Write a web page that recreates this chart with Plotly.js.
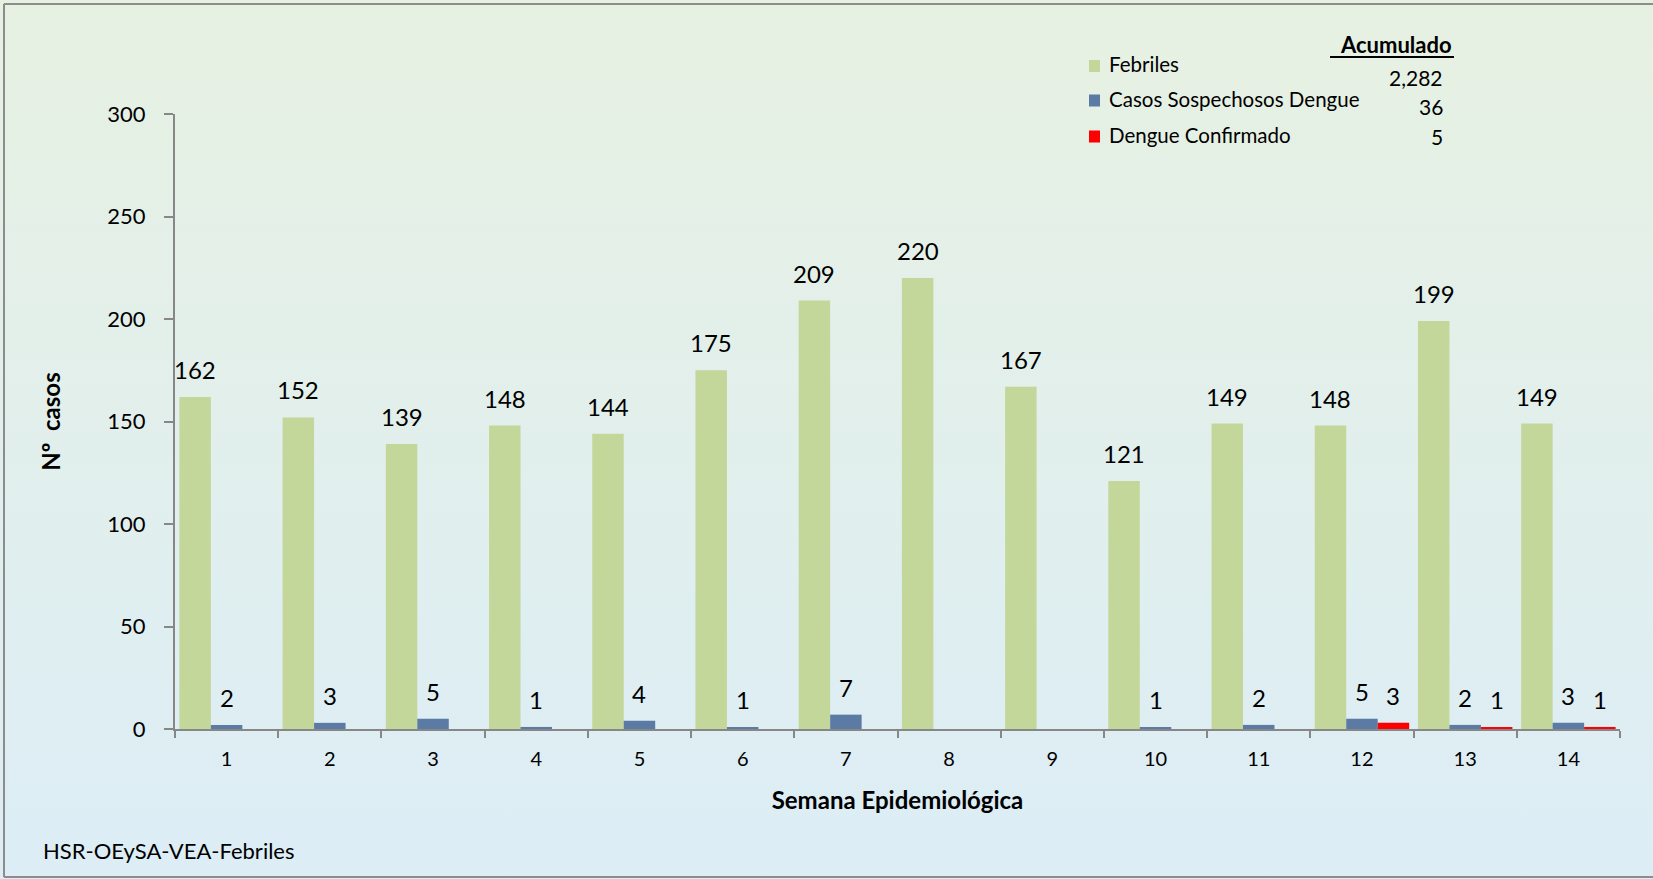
<!DOCTYPE html>
<html><head><meta charset="utf-8">
<script src="https://cdn.plot.ly/plotly-3.0.1.min.js"></script>
<style>
html,body{margin:0;padding:0;}
body{width:1653px;height:879px;overflow:hidden;background:linear-gradient(to bottom,#e7f1e2 0%,#dcedf6 100%);}
#chart{width:1653px;height:879px;}
</style></head><body><div id="chart"></div>
<script>
// ---- data ----
const semanas = ['1','2','3','4','5','6','7','8','9','10','11','12','13','14'];
const febriles = [162,152,139,148,144,175,209,220,167,121,149,148,199,149];
const sospechosos = [2,3,5,1,4,1,7,null,null,1,2,5,2,3];
const confirmados = [null,null,null,null,null,null,null,null,null,null,null,3,1,1];
const seriesNames = ['Febriles','Casos Sospechosos Dengue','Dengue Confirmado'];
const acumuladoTitle = 'Acumulado';
const xTitle = 'Semana Epidemiológica';
const yTitle = 'Nº&nbsp; casos';
const footer = 'HSR-OEySA-VEA-Febriles';

// ---- style ----
const colors = ['#c4d79b','#5b7ba5','#ff0000'];
const FONT = 'Lato, "Open Sans", sans-serif';
const W = 1653, H = 879, L = 175, R = 33, T = 114, B = 150;
const plotW = W - L - R, plotH = H - T - B;
const BARGAP = 0.085;
const px2x = p => (p - L) / plotW;
const py2y = p => (H - B - p) / plotH;
const barW = plotW / semanas.length * (1 - BARGAP) / 3;

const allSeries = [febriles, sospechosos, confirmados];
const traces = allSeries.map((vals, s) => ({
  type: 'bar', x: semanas, y: vals, name: seriesNames[s],
  marker: {color: colors[s], line: {width: 0}},
  hoverinfo: 'x+y+name'
}));

const annotations = [];
allSeries.forEach((vals, s) => {
  vals.forEach((v, i) => {
    if (v === null || v === 0) return;
    annotations.push({
      x: i, y: v, xref: 'x', yref: 'y', text: String(v),
      showarrow: false, yanchor: 'bottom', xanchor: 'center',
      xshift: (s - 1) * barW, yshift: 11,
      font: {family: FONT, size: 24, color: '#000'}
    });
  });
});

const shapes = [];
// legend
const legY = [66, 100.5, 136.5];
const valY = [77, 107, 136];
seriesNames.forEach((n, s) => {
  const tot = allSeries[s].reduce((a, b) => a + (b || 0), 0);
  shapes.push({type: 'rect', xref: 'paper', yref: 'paper',
    x0: px2x(1089), x1: px2x(1100), y0: py2y(legY[s] + 6), y1: py2y(legY[s] - 6),
    fillcolor: colors[s], line: {width: 0}});
  annotations.push({xref: 'paper', yref: 'paper', x: px2x(1107), y: py2y(legY[s] - 2),
    xanchor: 'left', yanchor: 'middle', showarrow: false, text: n,
    font: {family: FONT, size: 20.5, color: '#000'}});
  annotations.push({xref: 'paper', yref: 'paper', x: px2x(1445), y: py2y(valY[s]),
    xanchor: 'right', yanchor: 'middle', showarrow: false, text: tot.toLocaleString('en-US'),
    font: {family: FONT, size: 21, color: '#000'}});
});
annotations.push({xref: 'paper', yref: 'paper', x: px2x(1454), y: py2y(45),
  xanchor: 'right', yanchor: 'middle', showarrow: false, text: '<b>' + acumuladoTitle + '</b>',
  font: {family: FONT, size: 22, color: '#000'}});
shapes.push({type: 'line', xref: 'paper', yref: 'paper', x0: px2x(1330), x1: px2x(1454),
  y0: py2y(57), y1: py2y(57), line: {color: '#000', width: 2}});
// footer
annotations.push({xref: 'paper', yref: 'paper', x: px2x(41), y: py2y(850),
  xanchor: 'left', yanchor: 'middle', showarrow: false, text: footer,
  font: {family: FONT, size: 22, color: '#000'}});
// border
const bc = '#8c8c8c';
shapes.push({type: 'line', xref: 'paper', yref: 'paper', x0: px2x(4), x1: px2x(4), y0: py2y(4), y1: py2y(877), line: {color: bc, width: 2}});
shapes.push({type: 'line', xref: 'paper', yref: 'paper', x0: px2x(4), x1: px2x(W + 5), y0: py2y(4), y1: py2y(4), line: {color: bc, width: 2}});
shapes.push({type: 'line', xref: 'paper', yref: 'paper', x0: px2x(4), x1: px2x(W + 5), y0: py2y(877), y1: py2y(877), line: {color: bc, width: 2}});

const layout = {
  width: W, height: H,
  margin: {l: L, r: R, t: T, b: B, pad: 0},
  paper_bgcolor: 'rgba(0,0,0,0)', plot_bgcolor: 'rgba(0,0,0,0)',
  barmode: 'group', bargap: BARGAP, bargroupgap: 0,
  showlegend: false,
  font: {family: FONT, color: '#000'},
  xaxis: {
    type: 'category', range: [-0.5, semanas.length - 0.5], autorange: false,
    showline: true, linecolor: '#878787', linewidth: 2,
    ticks: 'outside', tickson: 'boundaries', ticklen: 7, tickcolor: '#878787', tickwidth: 2,
    tickfont: {family: FONT, size: 20, color: '#000'}, ticklabelstandoff: 11,
    showgrid: false, zeroline: false, fixedrange: true,
    title: {text: '<b>' + xTitle + '</b>', font: {family: FONT, size: 24, color: '#000'}, standoff: 23}
  },
  yaxis: {
    range: [0, 300], autorange: false, dtick: 50, showline: true, linecolor: '#878787', linewidth: 2,
    ticks: 'outside', ticklen: 9, tickcolor: '#878787', tickwidth: 2,
    tickfont: {family: FONT, size: 22, color: '#000'}, ticklabelstandoff: 14,
    showgrid: false, zeroline: false, fixedrange: true,
    title: {text: '<b>' + yTitle + '</b>', font: {family: FONT, size: 24, color: '#000'}, standoff: 40}
  },
  annotations: annotations, shapes: shapes
};
Plotly.newPlot('chart', traces, layout, {displayModeBar: false});
</script></body></html>
